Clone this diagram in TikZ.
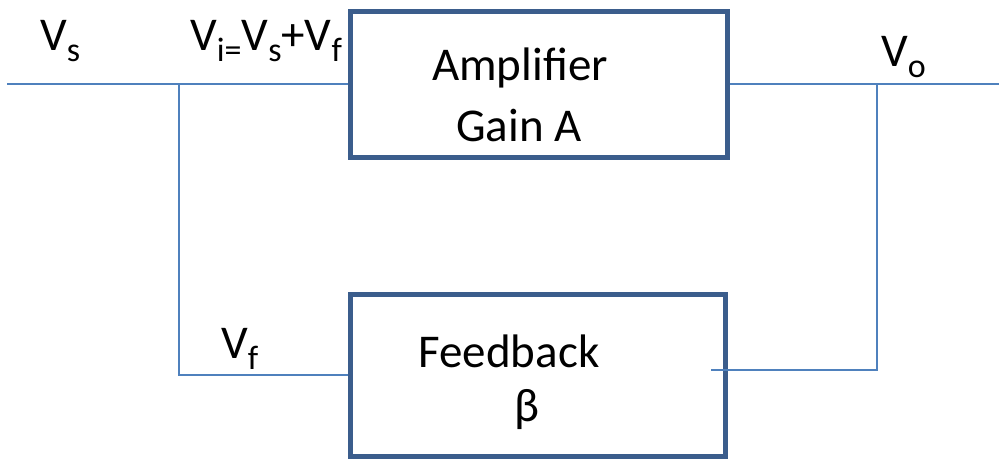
\documentclass[tikz,border=0pt]{standalone}
\usepackage{fontspec}
\setmainfont{Carlito}
\usetikzlibrary{calc}
\definecolor{wireblue}{HTML}{4F81BD}
\definecolor{boxblue}{HTML}{3B5D8C}
% lowered, smaller subscript in the running font
\newcommand\lowsub[1]{\raisebox{-0.25em}{\fontsize{34}{34}\selectfont #1}}
\begin{document}
\begin{tikzpicture}[x=1pt,y=-1pt,
  wire/.style={draw=wireblue,line width=2.6pt},
  blockbox/.style={draw=boxblue,line width=5pt,fill=white,inner sep=0pt},
  btxt/.style={inner sep=0pt,font=\fontsize{47}{47}\selectfont},
  lbl/.style={inner sep=0pt,anchor=base west,font=\fontsize{47}{47}\selectfont}]
\useasboundingbox (0,0) rectangle (999,459);

% blocks
\node[blockbox,minimum width=377pt,minimum height=146pt] (amp) at (538.5,84) {};
\node[blockbox,minimum width=375pt,minimum height=162pt] (fb) at (538,375) {};
\node[btxt] (amptxt) at (520,68) {Amplifier};
\node[btxt] (gaintxt) at (519,125) {Gain A};
\node[btxt] (fbtxt) at (509,351) {Feedback};
\node[btxt] (betatxt) at (527,410) {β};

% wiring points
\coordinate (vin) at (7,84);
\coordinate (j1) at (179,84);
\coordinate (j2) at (877,84);
\coordinate (vout) at (999,84);
\coordinate (fbin) at (711,370);

% connectors
\draw[wire] (vin) -- (amp.west);
\draw[wire] (j1) |- (fb.west);
\draw[wire] (amp.east) -- (vout);
\draw[wire] (j2) |- (fbin);

% signal labels
\node[lbl] (vs) at (40,50) {V\lowsub{s}};
\node[lbl] (vi) at (190,50) {V\lowsub{i=}V\lowsub{s}+V\lowsub{f}};
\node[lbl] (vo) at (881,66) {V\lowsub{o}};
\node[lbl] (vf) at (221,358) {V\lowsub{f}};
\end{tikzpicture}
\end{document}
